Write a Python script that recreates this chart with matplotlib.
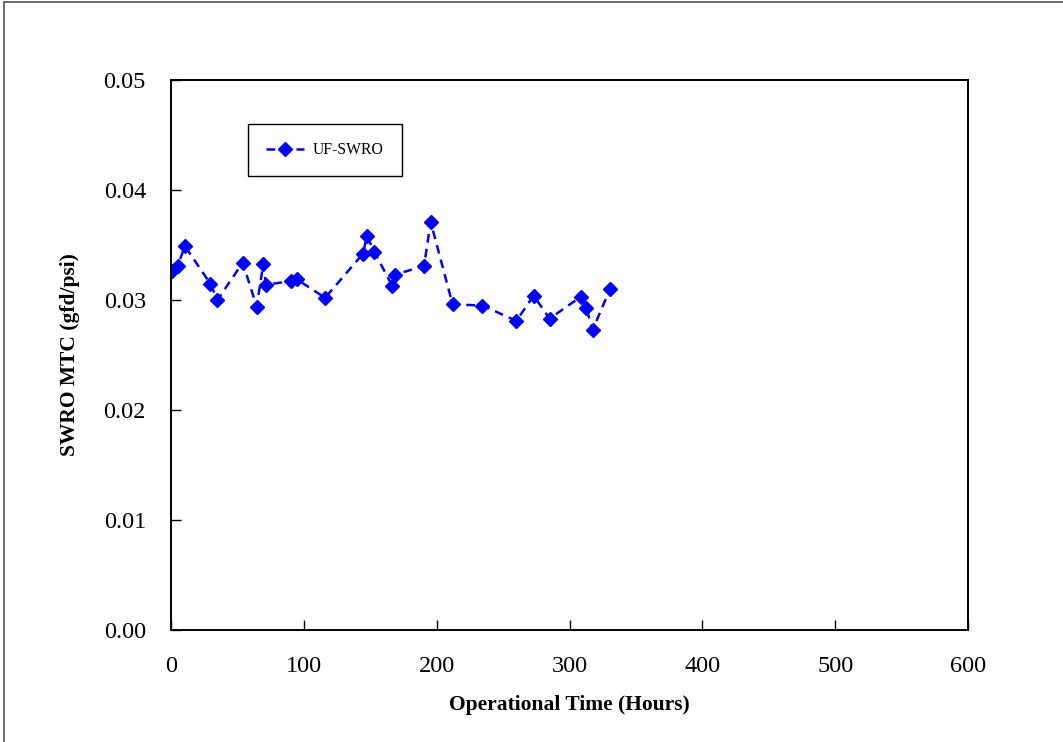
import matplotlib
matplotlib.use("Agg")
import matplotlib.pyplot as plt
from matplotlib.patches import Rectangle

plt.rcParams['font.family'] = ['Liberation Serif', 'DejaVu Serif']

# operational hours and SWRO mass transfer coefficient
hours = [1, 5, 10.5, 29.5, 35, 54, 64.5, 69.5, 71.5, 90, 94.5, 116,
         144.5, 147.5, 153, 166.5, 168.5, 190.5, 195.5, 212, 234.5,
         260, 273, 285, 308.5, 312.5, 317.5, 330.5]
mtc = [0.0326, 0.0331, 0.0349, 0.0315, 0.0300, 0.0334, 0.0294, 0.0333,
       0.0314, 0.0317, 0.0319, 0.0302, 0.0342, 0.0358, 0.0344, 0.0313,
       0.0323, 0.0331, 0.0371, 0.0296, 0.0295, 0.0281, 0.0304, 0.0283,
       0.0303, 0.0293, 0.0273, 0.0310]

fig = plt.figure(figsize=(10.63, 7.42), dpi=100)
ax = fig.add_axes([171 / 1063, 1 - 630 / 742, 797 / 1063, 550 / 742])

ax.plot(hours, mtc, color='#0000ff', linestyle=(0, (3.5, 2.5)), linewidth=1.8,
        marker='D', markersize=7, label='UF-SWRO')

ax.set_xlim(0, 600)
ax.set_ylim(0, 0.05)
ax.set_xticks([0, 100, 200, 300, 400, 500, 600])
ax.set_yticks([0.00, 0.01, 0.02, 0.03, 0.04, 0.05])
ax.set_yticklabels(['0.00', '0.01', '0.02', '0.03', '0.04', '0.05'])
ax.tick_params(axis='both', direction='in', length=7, width=1, labelsize=17.5)
ax.tick_params(axis='y', pad=18)
ax.tick_params(axis='x', pad=19)
for sp in ax.spines.values():
    sp.set_linewidth(1.4)

ax.set_xlabel('Operational Time (Hours)', fontsize=15.5, fontweight='bold', labelpad=13)
ax.set_ylabel('SWRO MTC (gfd/psi)', fontsize=15.5, fontweight='bold', labelpad=17)

leg = ax.legend(loc='upper left', bbox_to_anchor=(0.0966, 0.92), fontsize=11.3,
                fancybox=False, edgecolor='black', framealpha=1,
                borderpad=1.15, handlelength=2.4, handletextpad=0.6,
                borderaxespad=0)
leg.get_frame().set_linewidth(1.0)

# outer frame around the whole chart
fig.patches.append(Rectangle((4 / 1063, -0.1), 1.2, 1.1 - 2 / 742,
                             transform=fig.transFigure, fill=False,
                             edgecolor='#555555', linewidth=1.2, clip_on=False))

fig.savefig('out.png', dpi=100)
